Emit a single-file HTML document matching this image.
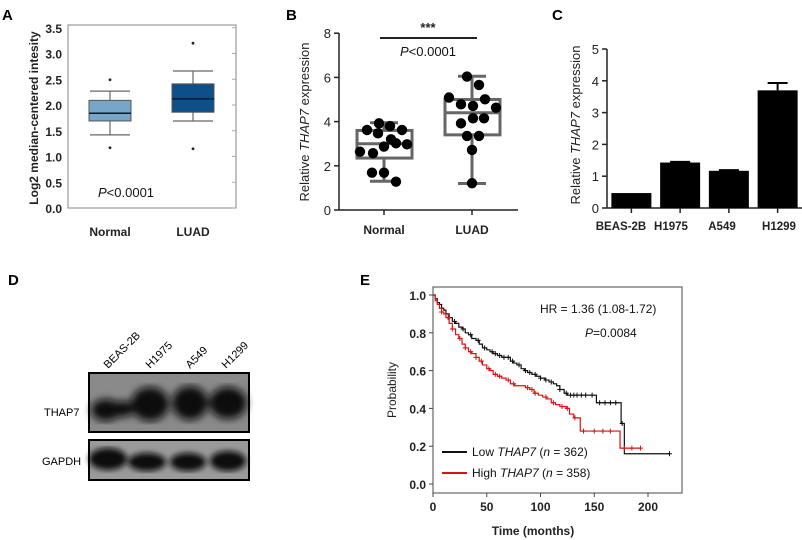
<!DOCTYPE html>
<html><head><meta charset="utf-8"><style>
body{margin:0;background:#fff;width:802px;height:540px;overflow:hidden}
svg{display:block;font-family:"Liberation Sans",Arial,sans-serif}
</style></head><body>
<svg id="fig" width="802" height="540" viewBox="0 0 802 540">
<g font-weight="bold" font-size="15" fill="#000">
<text x="2" y="20">A</text>
<text x="286" y="20">B</text>
<text x="552" y="20">C</text>
<text x="8" y="285">D</text>
<text x="360" y="285">E</text>
</g>
<g id="pa"></g>
<g id="pb"></g>
<g id="pc"></g>
<g id="pd">
<defs><filter id="blur"><feGaussianBlur stdDeviation="4"/></filter>
<filter id="blur2"><feGaussianBlur stdDeviation="3"/></filter></defs>
<rect x="89" y="373" width="160" height="59" fill="#8a8a8a" stroke="#000" stroke-width="2"/>
<g filter="url(#blur)" fill="#0a0a0a">
<ellipse cx="106" cy="410" rx="15" ry="11"/><ellipse cx="123" cy="409" rx="11" ry="8"/>
<ellipse cx="150" cy="404" rx="19" ry="17"/><ellipse cx="190" cy="403" rx="18" ry="17"/><ellipse cx="228" cy="403" rx="19" ry="16"/>
</g>
<rect x="89" y="373" width="160" height="59" fill="none" stroke="#000" stroke-width="2"/>
<rect x="89" y="440" width="160" height="40" fill="#9a9a9a" stroke="#000" stroke-width="2"/>
<g filter="url(#blur2)" fill="#0a0a0a">
<ellipse cx="108" cy="459" rx="19" ry="11"/><ellipse cx="147" cy="462" rx="19" ry="9"/><ellipse cx="188" cy="462" rx="18" ry="9"/><ellipse cx="228" cy="461" rx="18" ry="10"/>
</g>
<rect x="89" y="440" width="160" height="40" fill="none" stroke="#000" stroke-width="2"/>
<g font-size="11" fill="#000">
<text x="44" y="416">THAP7</text>
<text x="42" y="465">GAPDH</text>
<text transform="translate(108,369) rotate(-45)">BEAS-2B</text>
<text transform="translate(150,369) rotate(-45)">H1975</text>
<text transform="translate(190,369) rotate(-45)">A549</text>
<text transform="translate(226,369) rotate(-45)">H1299</text>
</g>
</g>
<g id="pe"></g>
</svg>
<script>
var NS="http://www.w3.org/2000/svg";
function mk(p,t,a,txt){var e=document.createElementNS(NS,t);for(var k in a)e.setAttribute(k,a[k]);if(txt!==undefined)e.textContent=txt;p.appendChild(e);return e;}

// Panel A data
var aCats=["Normal","LUAD"];
var aQ1=[1.69,1.86];
var aMed=[1.84,2.12];
var aQ3=[2.09,2.41];
var aWLo=[1.42,1.69];
var aWHi=[2.27,2.66];
var aOutHi=[2.49,3.2];
var aOutLo=[1.17,1.15];
var aTicks=[0,0.5,1.0,1.5,2.0,2.5,3.0,3.5];
var aColors=["#77a6c8","#0d4f88"];

// Panel B data
var bCats=["Normal","LUAD"];
var bQ1=[2.35,3.4],bMed=[3.0,4.4],bQ3=[3.6,5.0],bWLo=[1.3,1.2],bWHi=[3.95,6.05];
var bNormal=[3.62,3.92,3.8,3.62,3.47,3.2,2.87,3.02,2.97,2.64,2.57,1.69,1.69,1.28];
var bLuad=[6.04,5.66,5.09,5.01,4.78,4.71,4.63,3.92,4.15,4.15,3.35,3.35,2.72,1.21];
var bJitN=[-17,-5,6,18,-6,7,0,12,23,-24,-11,-12,0,12];
var bJitL=[-5,7,-23,13,-11,1,24,-11,1,12,-5,7,0,0];
var bTicks=[0,2,4,6,8];

// Panel C data
var cCats=["BEAS-2B","H1975","A549","H1299"];
var cVals=[0.47,1.43,1.17,3.7];
var cErr=[0,0.02,0.02,0.23];
var cTicks=[0,1,2,3,4,5];

// Panel E data
var eLowT=[0,2,4,6,8,10,12,15,18,21,24,27,30,33,36,40,43,46,50,53,56,60,64,68,72,75,78,82,85,88,92,96,100,104,108,112,115,118,122,125,152,175,178,220];
var eLowS=[1.0,0.98,0.96,0.95,0.93,0.92,0.90,0.88,0.86,0.85,0.83,0.82,0.80,0.79,0.77,0.76,0.74,0.72,0.71,0.70,0.69,0.68,0.67,0.67,0.65,0.64,0.63,0.61,0.60,0.59,0.58,0.57,0.56,0.55,0.54,0.53,0.52,0.50,0.48,0.47,0.43,0.32,0.16,0.16];
var eHighT=[0,2,4,6,8,10,12,15,18,21,24,27,30,33,36,40,43,46,50,53,56,60,64,68,72,76,82,86,90,94,98,102,106,110,114,118,124,127,131,137,174,193];
var eHighS=[1.0,0.97,0.95,0.93,0.91,0.90,0.88,0.85,0.82,0.79,0.77,0.74,0.72,0.70,0.69,0.67,0.65,0.63,0.61,0.60,0.58,0.57,0.56,0.55,0.53,0.52,0.52,0.51,0.50,0.48,0.47,0.46,0.45,0.43,0.42,0.41,0.40,0.37,0.35,0.28,0.19,0.19];
var eLowCens=[20,28,35,42,48,55,58,62,66,70,74,80,86,90,95,100,105,110,118,124,128,131,134,138,142,148,155,160,165,170,176,220];
var eHighCens=[8,14,18,25,30,35,40,45,52,58,62,70,75,88,92,95,105,112,120,125,132,140,150,158,165,178,185,193];
var eXTicks=[0,50,100,150,200];
var eYTicks=[0,0.2,0.4,0.6,0.8,1.0];

// ---- Panel A
(function(){
var g=document.getElementById('pa');
function y(v){return 208-51.5*v;}
function x(i){return [110,193][i];}
mk(g,'rect',{x:68,y:25,width:168,height:183,fill:'none',stroke:'#999','stroke-width':1.2});
aTicks.forEach(function(t){
 var e=mk(g,'text',{x:62,y:y(t)+5,'text-anchor':'end','font-size':12,'font-weight':'bold',fill:'#222'},t.toFixed(1));
 
 mk(g,'line',{x1:232,x2:236,y1:y(t),y2:y(t),stroke:'#aaa'});
});
aCats.forEach(function(c,i){
 var cx=x(i);
 mk(g,'line',{x1:cx,x2:cx,y1:y(aWLo[i]),y2:y(aWHi[i]),stroke:'#666','stroke-width':1.2});
 mk(g,'line',{x1:cx-20,x2:cx+20,y1:y(aWLo[i]),y2:y(aWLo[i]),stroke:'#666','stroke-width':1.2});
 mk(g,'line',{x1:cx-20,x2:cx+20,y1:y(aWHi[i]),y2:y(aWHi[i]),stroke:'#666','stroke-width':1.2});
 var b=mk(g,'rect',{x:cx-21,y:y(aQ3[i]),width:42,height:y(aQ1[i])-y(aQ3[i]),fill:aColors[i],stroke:'#555'});
 
 mk(g,'line',{x1:cx-21,x2:cx+21,y1:y(aMed[i]),y2:y(aMed[i]),stroke:'#0b1b2b','stroke-width':1.5});
 mk(g,'circle',{cx:cx,cy:y(aOutHi[i]),r:1.4,fill:'#222'});
 mk(g,'circle',{cx:cx,cy:y(aOutLo[i]),r:1.4,fill:'#222'});
 var l=mk(g,'text',{x:cx,y:236,'text-anchor':'middle','font-size':12,'font-weight':'bold',fill:'#222'},c);
 
});
var p=mk(g,'text',{x:98,y:197,'font-size':13,fill:'#111'});
p.innerHTML='<tspan font-style="italic">P</tspan>&lt;0.0001';

var t=mk(g,'text',{transform:'translate(38,118) rotate(-90)','text-anchor':'middle','font-size':12,'font-weight':'bold',fill:'#222'},'Log2 median-centered intesity');

})();

// ---- Panel B
(function(){
var g=document.getElementById('pb');
function y(v){return 210-22.1*v;}
var cx=[384,472];
mk(g,'line',{x1:339,x2:339,y1:33,y2:210,stroke:'#222','stroke-width':1.5});
mk(g,'line',{x1:339,x2:518,y1:210,y2:210,stroke:'#222','stroke-width':1.5});
bTicks.forEach(function(t){
 mk(g,'line',{x1:334,x2:339,y1:y(t),y2:y(t),stroke:'#222','stroke-width':1.5});
 var e=mk(g,'text',{x:331,y:y(t)+5,'text-anchor':'end','font-size':13,fill:'#222'},t);
 
});
var pts=[bNormal,bLuad],jit=[bJitN,bJitL];
bCats.forEach(function(c,i){
 var X=cx[i];
 mk(g,'line',{x1:X,x2:X,y1:210,y2:215,stroke:'#222','stroke-width':1.5});
 var l=mk(g,'text',{x:X,y:234,'text-anchor':'middle','font-size':12,'font-weight':'bold',fill:'#222'},c);
 
 var s={stroke:'#666','stroke-width':3,fill:'none'};
 mk(g,'line',Object.assign({x1:X,x2:X,y1:y(bWLo[i]),y2:y(bQ1[i])},s));
 mk(g,'line',Object.assign({x1:X,x2:X,y1:y(bWHi[i]),y2:y(bQ3[i])},s));
 mk(g,'line',Object.assign({x1:X-14,x2:X+14,y1:y(bWLo[i]),y2:y(bWLo[i])},s));
 mk(g,'line',Object.assign({x1:X-14,x2:X+14,y1:y(bWHi[i]),y2:y(bWHi[i])},s));
 var b=mk(g,'rect',Object.assign({x:X-27,y:y(bQ3[i]),width:55,height:y(bQ1[i])-y(bQ3[i])},s));
 
 mk(g,'line',Object.assign({x1:X-27,x2:X+28,y1:y(bMed[i]),y2:y(bMed[i])},s));
 pts[i].forEach(function(v,j){
  var d=mk(g,'circle',{cx:X+jit[i][j],cy:y(v),r:5.2,fill:'#000'});
  
 });
});
mk(g,'line',{x1:380,x2:477,y1:38,y2:38,stroke:'#222','stroke-width':2});
var st=mk(g,'text',{x:428,y:32,'text-anchor':'middle','font-size':13,'font-weight':'bold',fill:'#222'},'***');

var p=mk(g,'text',{x:428,y:56,'text-anchor':'middle','font-size':13,fill:'#111'});
p.innerHTML='<tspan font-style="italic">P</tspan>&lt;0.0001';

var t=mk(g,'text',{transform:'translate(309,122) rotate(-90)','text-anchor':'middle','font-size':13,fill:'#222'});
t.innerHTML='Relative <tspan font-style="italic">THAP7</tspan> expression';

})();

// ---- Panel C
(function(){
var g=document.getElementById('pc');
function y(v){return 208-31.8*v;}
var x0=607,bw=48.75;
function cxf(i){return x0+bw*(i+0.5);}
var labX=[621,671,722,779];
mk(g,'line',{x1:x0,x2:x0,y1:49,y2:208,stroke:'#222','stroke-width':1.5});
mk(g,'line',{x1:x0,x2:802,y1:208,y2:208,stroke:'#222','stroke-width':1.5});
cTicks.forEach(function(t){
 mk(g,'line',{x1:602,x2:x0,y1:y(t),y2:y(t),stroke:'#222','stroke-width':1.5});
 var e=mk(g,'text',{x:599,y:y(t)+5,'text-anchor':'end','font-size':13,fill:'#222'},t);
 
});
cCats.forEach(function(c,i){
 var X=cxf(i);
 if(cErr[i]>0){
  mk(g,'line',{x1:X,x2:X,y1:y(cVals[i]),y2:y(cVals[i]+cErr[i]),stroke:'#000','stroke-width':2});
  mk(g,'line',{x1:X-10,x2:X+10,y1:y(cVals[i]+cErr[i]),y2:y(cVals[i]+cErr[i]),stroke:'#000','stroke-width':2});
 }
 var b=mk(g,'rect',{x:X-20,y:y(cVals[i]),width:40,height:208-y(cVals[i]),fill:'#000'});
 
 mk(g,'line',{x1:X,x2:X,y1:208,y2:213,stroke:'#222','stroke-width':1.5});
 var l=mk(g,'text',{x:labX[i],y:230,'text-anchor':'middle','font-size':11.5,'font-weight':'bold',fill:'#222'},c);
 
});
var t=mk(g,'text',{transform:'translate(580,125) rotate(-90)','text-anchor':'middle','font-size':13,fill:'#222'});
t.innerHTML='Relative <tspan font-style="italic">THAP7</tspan> expression';

})();

// ---- Panel E
(function(){
var g=document.getElementById('pe');
function x(t){return 433+1.075*t;}
function y(s){return 484-189*s;}
mk(g,'rect',{x:433,y:287,width:249,height:206,fill:'none',stroke:'#666','stroke-width':1.2});
eYTicks.forEach(function(t){
 mk(g,'line',{x1:429,x2:433,y1:y(t),y2:y(t),stroke:'#444'});
 var e=mk(g,'text',{x:426,y:y(t)+5,'text-anchor':'end','font-size':12,'font-weight':'bold',fill:'#222'},t.toFixed(1));
 
});
eXTicks.forEach(function(t){
 mk(g,'line',{x1:x(t),x2:x(t),y1:493,y2:497,stroke:'#444'});
 var e=mk(g,'text',{x:x(t),y:511,'text-anchor':'middle','font-size':12,'font-weight':'bold',fill:'#222'},t);
 
});
function stepPath(T,S){var d='M'+x(T[0])+','+y(S[0]);for(var i=1;i<T.length;i++){d+='H'+x(T[i])+'V'+y(S[i]);}return d;}
function survAt(T,S,t){var s=S[0];for(var i=0;i<T.length;i++){if(T[i]<=t)s=S[i];}return s;}
function curve(T,S,C,col,name){
 var p=mk(g,'path',{d:stepPath(T,S),fill:'none',stroke:col,'stroke-width':1.2});
 
 C.forEach(function(t){var X=x(t),Y=y(survAt(T,S,t));
  mk(g,'path',{d:'M'+(X-2.5)+','+Y+'h5M'+X+','+(Y-2.5)+'v5',stroke:col,'stroke-width':1});});
}
curve(eLowT,eLowS,eLowCens,'#111','e-low-thap7-curve');
curve(eHighT,eHighS,eHighCens,'#d11','e-high-thap7-curve');
var hr=mk(g,'text',{x:540,y:313,'font-size':12,fill:'#111'},'HR = 1.36 (1.08-1.72)');

var p=mk(g,'text',{x:585,y:337,'font-size':12,fill:'#111'});
p.innerHTML='<tspan font-style="italic">P</tspan>=0.0084';

mk(g,'line',{x1:442,x2:467,y1:452,y2:452,stroke:'#111','stroke-width':2});
mk(g,'line',{x1:442,x2:467,y1:473,y2:473,stroke:'#d11','stroke-width':2});
var l1=mk(g,'text',{x:472,y:456,'font-size':12,fill:'#111'});
l1.innerHTML='Low <tspan font-style="italic">THAP7</tspan> (<tspan font-style="italic">n</tspan> = 362)';

var l2=mk(g,'text',{x:472,y:477,'font-size':12,fill:'#111'});
l2.innerHTML='High <tspan font-style="italic">THAP7</tspan> (<tspan font-style="italic">n</tspan> = 358)';

var xt=mk(g,'text',{x:533,y:535,'text-anchor':'middle','font-size':12,'font-weight':'bold',fill:'#222'},'Time (months)');

var yt=mk(g,'text',{transform:'translate(396,390) rotate(-90)','text-anchor':'middle','font-size':12,fill:'#222'},'Probability');

})();
</script>
</body></html>
